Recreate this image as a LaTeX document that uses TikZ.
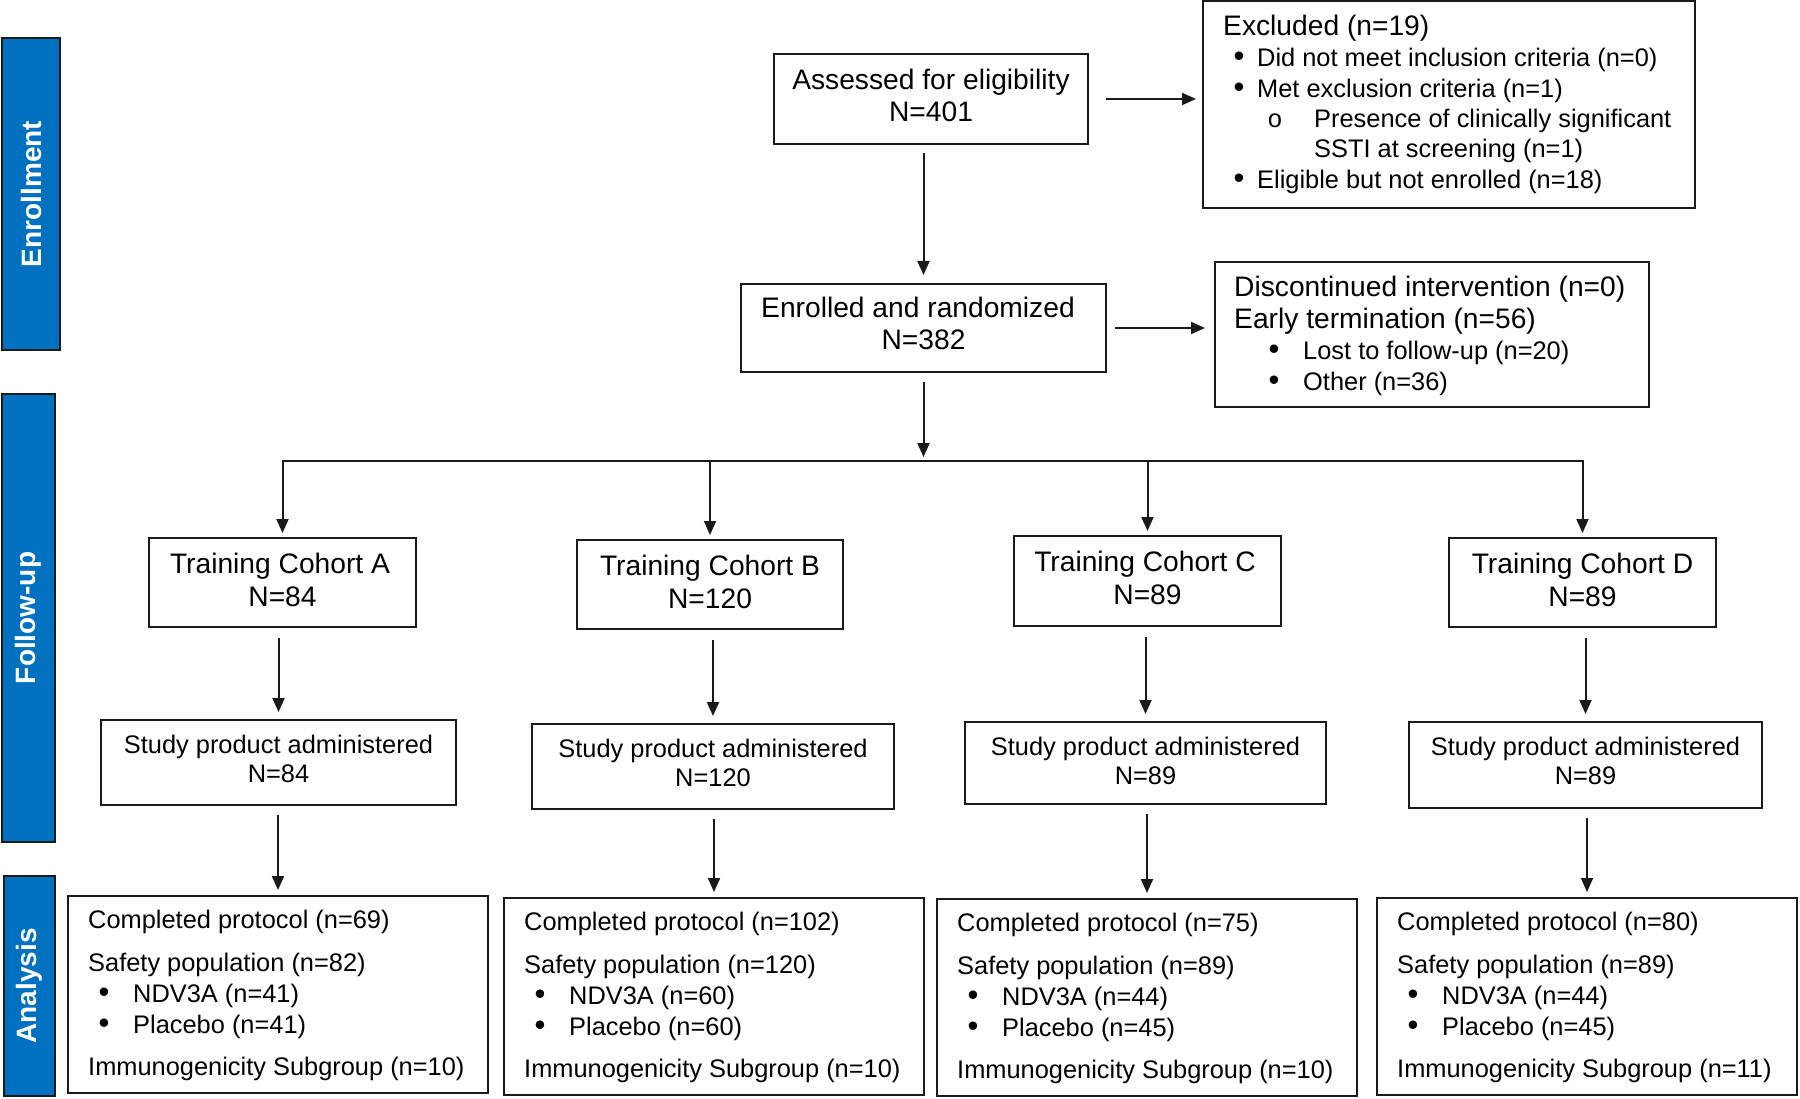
\documentclass[tikz,border=0pt]{standalone}
\usepackage{fontspec}
\setmainfont{Liberation Sans}
\newfontfamily\monof{Liberation Mono}
\usetikzlibrary{arrows.meta,fit}
\definecolor{barblue}{HTML}{0070C0}
\definecolor{ink}{HTML}{1A1A1A}
\newcommand\anabox[8]{%
  \node[box, fit={(#2,#3) (#2+420,#3+197)}] (#1) {};
  \node[sml, anchor=base west] (#1t1) at (#2+20,#3+32) {Completed protocol (n=#4)};
  \node[sml, anchor=base west] (#1t2) at (#2+20,#3+75) {Safety population (n=#5)};
  \node[bul, anchor=base] (#1b3) at (#2+36,#3+106) {•};
  \node[sml, anchor=base west] (#1t3) at (#2+65,#3+106) {NDV3A (n=#6)};
  \node[bul, anchor=base] (#1b4) at (#2+36,#3+137) {•};
  \node[sml, anchor=base west] (#1t4) at (#2+65,#3+137) {Placebo (n=#7)};
  \node[sml, anchor=base west] (#1t5) at (#2+20,#3+179) {Immunogenicity Subgroup (n=#8)};
}
\begin{document}
\begin{tikzpicture}[x=1pt,y=-1pt,
  box/.style={draw=ink, line width=2pt, inner sep=0pt, outer sep=0pt, fill=white},
  bar/.style={draw=ink, line width=1.5pt, fill=barblue, inner sep=0pt, outer sep=0pt},
  bartxt/.style={text=white, font=\fontsize{28}{30}\selectfont\bfseries, rotate=90, inner sep=0pt},
  big/.style={font=\fontsize{28.2}{32}\selectfont, inner sep=0pt},
  sml/.style={font=\fontsize{25.4}{30}\selectfont, inner sep=0pt},
  bul/.style={font=\fontsize{31}{30}\selectfont, inner sep=0pt},
  link/.style={draw=ink, line width=2pt},
  arr/.style={link, -{Triangle[length=14pt,width=12pt]}},
]
\useasboundingbox (0,0) rectangle (1800,1099);

% side bars
\node[bar, fit={(2,38) (60,350)}] (barE) {};
\node[bartxt] (barEt) at (barE.center) {Enrollment};
\node[bar, fit={(2,394) (55,842)}] (barF) {};
\node[bartxt] (barFt) at (barF.center) {Follow-up};
\node[bar, fit={(4,876) (55,1096)}] (barA) {};
\node[bartxt] (barAt) at (barA.center) {Analysis};

% top boxes
\node[box, fit={(774,54) (1088,144)}] (assess) {};
\node[big, anchor=base] (assessT1) at (931,90) {Assessed for eligibility};
\node[big, anchor=base] (assessT2) at (931,122) {N=401};

\node[box, fit={(1203,1) (1695,208)}] (excl) {};
\node[big, anchor=base west] (exT0) at (1223,36) {Excluded (n=19)};
\node[bul, anchor=base] (exB1) at (1239,67) {•};
\node[sml, anchor=base west] (exT1) at (1257,67) {Did not meet inclusion criteria (n=0)};
\node[bul, anchor=base] (exB2) at (1239,98) {•};
\node[sml, anchor=base west] (exT2) at (1257,98) {Met exclusion criteria (n=1)};
\node[sml, anchor=base] (exB3) at (1275,128) {\monof o};
\node[sml, anchor=base west] (exT3) at (1314,128) {Presence of clinically significant};
\node[sml, anchor=base west] (exT4) at (1314,158) {SSTI at screening (n=1)};
\node[bul, anchor=base] (exB5) at (1239,189) {•};
\node[sml, anchor=base west] (exT5) at (1257,189) {Eligible but not enrolled (n=18)};

\node[box, fit={(741,284) (1106,372)}] (enrol) {};
\node[big, anchor=base] (enrolT1) at (918,318) {Enrolled and randomized};
\node[big, anchor=base] (enrolT2) at (923.5,350) {N=382};

\node[box, fit={(1215,262) (1649,407)}] (disc) {};
\node[big, anchor=base west] (discT1) at (1234,297) {Discontinued intervention (n=0)};
\node[big, anchor=base west] (discT2) at (1234,329) {Early termination (n=56)};
\node[bul, anchor=base] (discB3) at (1274,360) {•};
\node[sml, anchor=base west] (discT3) at (1303,360) {Lost to follow-up (n=20)};
\node[bul, anchor=base] (discB4) at (1274,391) {•};
\node[sml, anchor=base west] (discT4) at (1303,391) {Other (n=36)};

% cohorts
\node[box, fit={(149,538) (416,627)}] (cohA) {};
\node[big, anchor=base] (cohAt1) at (280,573) {Training Cohort A};
\node[big, anchor=base] (cohAt2) at (282.5,606) {N=84};
\node[box, fit={(577,540) (843,629)}] (cohB) {};
\node[big, anchor=base] (cohBt1) at (710,575) {Training Cohort B};
\node[big, anchor=base] (cohBt2) at (710,608) {N=120};
\node[box, fit={(1014,536) (1281,626)}] (cohC) {};
\node[big, anchor=base] (cohCt1) at (1145,571) {Training Cohort C};
\node[big, anchor=base] (cohCt2) at (1147.5,604) {N=89};
\node[box, fit={(1449,538) (1716,627)}] (cohD) {};
\node[big, anchor=base] (cohDt1) at (1582.5,573) {Training Cohort D};
\node[big, anchor=base] (cohDt2) at (1582.5,606) {N=89};

% study product
\node[box, fit={(101,720) (456,805)}] (studA) {};
\node[sml, anchor=base] (studAt1) at (278.5,753) {Study product administered};
\node[sml, anchor=base] (studAt2) at (278.5,782) {N=84};
\node[box, fit={(532,724) (894,809)}] (studB) {};
\node[sml, anchor=base] (studBt1) at (713,757) {Study product administered};
\node[sml, anchor=base] (studBt2) at (713,786) {N=120};
\node[box, fit={(965,722) (1326,804)}] (studC) {};
\node[sml, anchor=base] (studCt1) at (1145.5,755) {Study product administered};
\node[sml, anchor=base] (studCt2) at (1145.5,784) {N=89};
\node[box, fit={(1409,722) (1762,808)}] (studD) {};
\node[sml, anchor=base] (studDt1) at (1585.5,755) {Study product administered};
\node[sml, anchor=base] (studDt2) at (1585.5,784) {N=89};

% analysis
\anabox{anaA}{68}{896}{69}{82}{41}{41}{10}
\anabox{anaB}{504}{898}{102}{120}{60}{60}{10}
\anabox{anaC}{937}{899}{75}{89}{44}{45}{10}
\anabox{anaD}{1377}{898}{80}{89}{44}{45}{11}

% connectors
\draw[arr, shorten <=18pt, shorten >=7pt] (assess.east) -- (assess.east -| excl.west);
\draw[arr, shorten <=9pt, shorten >=9pt] (assess.south -| enrol.north) -- (enrol.north);
\draw[arr, shorten <=9pt, shorten >=10pt] (enrol.east) -- (enrol.east -| disc.west);
\coordinate (split) at (enrol.south |- 0,461);
\draw[arr, shorten <=10pt, shorten >=4pt] (enrol.south) -- (split);
\foreach \c in {cohA,cohB,cohC,cohD}{
  \draw[arr, shorten >=5pt] (split) -| (\c.north);
}
\foreach \a/\b in {cohA/studA,cohB/studB,cohC/studC,cohD/studD}{
  \draw[arr, shorten <=11pt, shorten >=8pt] (\a.south -| \b.north) -- (\b.north);
}
\foreach \a/\b in {studA/anaA,studB/anaB,studC/anaC,studD/anaD}{
  \draw[arr, shorten <=10pt, shorten >=6pt] (\a.south -| \b.north) -- (\b.north);
}
\end{tikzpicture}
\end{document}
